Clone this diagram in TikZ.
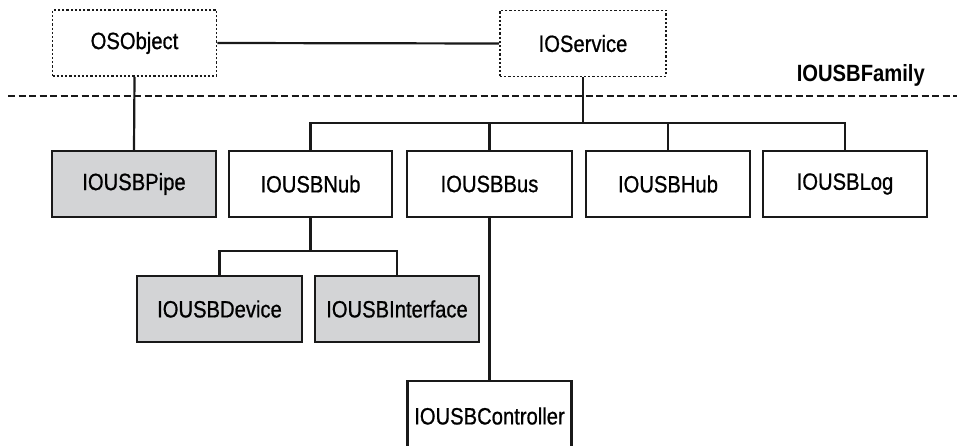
\documentclass[tikz,border=0pt]{standalone}
\usepackage{fontspec}
\setmainfont{Liberation Sans}[FakeStretch=0.86,FakeBold=0.8]
\newfontfamily\famfont{Liberation Sans Bold}[FakeStretch=0.86]
\definecolor{boxgray}{RGB}{211,212,214}
\begin{document}
\begin{tikzpicture}[x=1pt,y=-1pt,
  cls/.style={draw=black!90, line width=2.2pt, minimum width=164pt, minimum height=66pt,
    inner sep=0pt, font=\fontsize{23.5}{26}\selectfont},
  ext/.style={cls, dotted, line width=1.8pt},
  grey/.style={cls, fill=boxgray},
  conn/.style={draw=black!90, line width=2.2pt}]
\useasboundingbox (0,0) rectangle (957,446);
\clip (0,0) rectangle (957,446);
\node[ext] (os) at (134.5,43) {OSObject};
\node[ext, minimum width=166pt] (ios) at (583,43.5) {IOService};
\draw[black!90, line width=1.5pt, dash pattern=on 7pt off 3.5pt] (8,96) -- (957,96);
\node[font=\famfont\fontsize{23.5}{26}\selectfont, anchor=base east, inner sep=0pt] (fam) at (925,82) {IOUSBFamily};
\node[grey] (pipe) at (134,184) {IOUSBPipe};
\node[cls, minimum width=163pt] (nub) at (310.5,184) {IOUSBNub};
\node[cls, minimum width=165pt] (bus) at (489.5,184) {IOUSBBus};
\node[cls] (hub) at (668,184) {IOUSBHub};
\node[cls] (log) at (845,184) {IOUSBLog};
\node[grey, minimum width=165pt] (dev) at (219.5,309) {IOUSBDevice};
\node[grey] (intf) at (397,309) {IOUSBInterface};
\node[cls, minimum height=70pt] (ctl) at (489.5,416) {IOUSBController};
\coordinate (bar) at (583,123);
\coordinate (nbar) at (310.5,251);
\draw[conn] (os.east) -- (ios.west);
\draw[conn] (os.south) -- (pipe.north);
\draw[conn] (ios.south) -- (bar);
\draw[conn] (nub.north) -- (nub.north |- bar) -- (log.north |- bar) -- (log.north);
\draw[conn] (bus.north) -- (bus.north |- bar);
\draw[conn] (hub.north) -- (hub.north |- bar);
\draw[conn] (nub.south) -- (nbar);
\draw[conn] (dev.north) -- (dev.north |- nbar) -- (intf.north |- nbar) -- (intf.north);
\draw[conn] (bus.south) -- (ctl.north);
\end{tikzpicture}
\end{document}
